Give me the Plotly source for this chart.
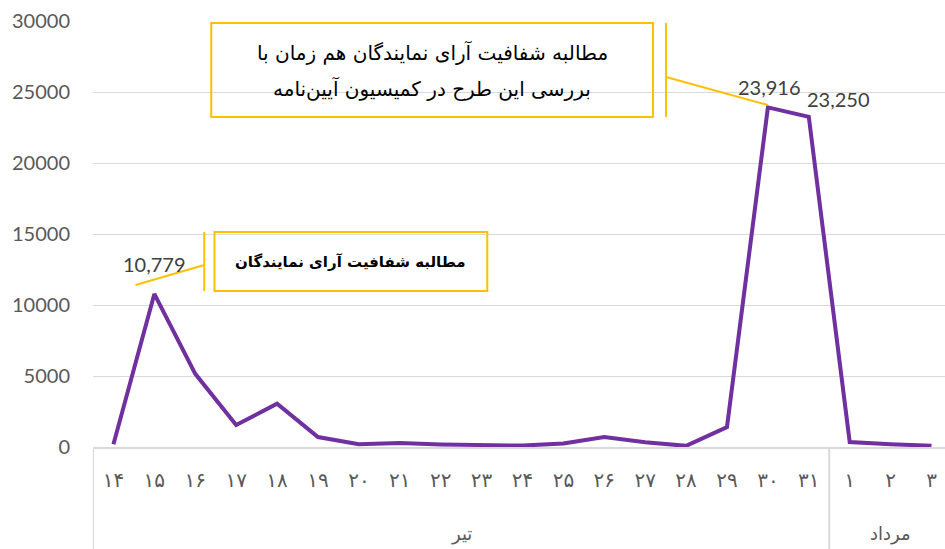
import plotly.graph_objects as go

# ---- data ----
days_tir = ['۱۴', '۱۵', '۱۶', '۱۷', '۱۸', '۱۹', '۲۰', '۲۱', '۲۲', '۲۳', '۲۴',
            '۲۵', '۲۶', '۲۷', '۲۸', '۲۹', '۳۰', '۳۱']
days_mordad = ['۱', '۲', '۳']
month_names = ['تیر', 'مرداد']
values = [200, 10779, 5150, 1550, 3050, 700, 200, 280, 180, 130, 100,
          250, 700, 330, 80, 1400, 23916, 23250, 350, 200, 80]
labelled_points = [1, 16, 17]
y_ticks = [0, 5000, 10000, 15000, 20000, 25000, 30000]
y_tick_text = ['0', '5000', '10000', '15000', '20000', '25000', '30000']
box1_text = 'مطالبه شفافیت آرای نمایندگان'
box2_lines = ['مطالبه شفافیت آرای نمایندگان هم زمان با',
              'بررسی این طرح در کمیسیون آیین‌نامه']

tick_labels = days_tir + days_mordad
xs = list(range(len(tick_labels)))

PURPLE = '#7030A0'
GOLD = '#FFC000'
GRID = '#D9D9D9'
TXT = '#595959'

fig = go.Figure()
fig.add_trace(go.Scatter(x=xs, y=values, mode='lines',
                         line=dict(color=PURPLE, width=4),
                         hoverinfo='skip', showlegend=False))

# data labels
label_shift = {1: (0, 22), 16: (2, 12), 17: (30, 10)}
for i in labelled_points:
    dx, dy = label_shift[i]
    fig.add_annotation(x=xs[i], y=values[i], text=f"{values[i]:,}",
                       showarrow=False, xshift=dx, yshift=dy + 8,
                       font=dict(family='Lato', size=20, color='#404040'))

shapes = []
# group dividers below axis
n_tir = len(days_tir)
for xd in [-0.5, n_tir - 0.5]:
    shapes.append(dict(type='line', xref='x', yref='paper', x0=xd, x1=xd,
                       y0=0, y1=-0.25, line=dict(color=GRID, width=2)))

# callout boxes
shapes.append(dict(type='rect', xref='x', yref='y', x0=2.47, x1=9.14, y0=10986, y1=15141,
                   line=dict(color=GOLD, width=2)))
shapes.append(dict(type='line', xref='x', yref='y', x0=2.22, x1=2.22, y0=10986, y1=15141,
                   line=dict(color=GOLD, width=2)))
shapes.append(dict(type='line', xref='x', yref='y', x0=2.22, x1=0.54, y0=12817, y1=11408,
                   line=dict(color=GOLD, width=2)))

shapes.append(dict(type='rect', xref='x', yref='y', x0=2.39, x1=13.19, y0=23239, y1=29859,
                   line=dict(color=GOLD, width=2)))
shapes.append(dict(type='line', xref='x', yref='y', x0=13.51, x1=13.51, y0=23239, y1=29859,
                   line=dict(color=GOLD, width=2)))
shapes.append(dict(type='line', xref='x', yref='y', x0=13.51, x1=16.0, y0=26056, y1=24085,
                   line=dict(color=GOLD, width=2)))

fig.add_annotation(x=(2.47 + 9.14) / 2, y=(10986 + 15141) / 2, xref='x', yref='y',
                   text='<b>' + box1_text + '</b>', showarrow=False,
                   font=dict(family='DejaVu Sans', size=15, color='#000000'))
box2_mid_y = (23239 + 29859) / 2
for k, line_txt in enumerate(box2_lines):
    fig.add_annotation(x=(2.39 + 13.19) / 2, y=box2_mid_y, xref='x', yref='y',
                       yshift=18 - 36 * k, text=line_txt, showarrow=False,
                       font=dict(family='DejaVu Sans', size=20, color='#000000'))

# month labels
mid_tir = (n_tir - 1) / 2
mid_mordad = n_tir + (len(days_mordad) - 1) / 2
for xm, name in zip([mid_tir, mid_mordad], month_names):
    fig.add_annotation(x=xm, y=-0.205, xref='x', yref='paper', text=name,
                       showarrow=False, yanchor='middle',
                       font=dict(family='DejaVu Sans', size=18, color=TXT))

fig.update_layout(
    width=945, height=549,
    margin=dict(l=93, r=0, t=21, b=102),
    paper_bgcolor='white', plot_bgcolor='white',
    shapes=shapes,
    xaxis=dict(range=[-0.5, 20.33], tickmode='array', tickvals=xs, ticktext=tick_labels,
               showgrid=False, zeroline=False, showline=True, linecolor=GRID, linewidth=2,
               ticks='', ticklabelstandoff=14, automargin=False,
               tickfont=dict(family='DejaVu Sans', size=20, color=TXT)),
    yaxis=dict(range=[0, 30000], tickmode='array', tickvals=y_ticks, ticktext=y_tick_text,
               showgrid=True, gridcolor=GRID,
               gridwidth=1.3, zeroline=False, showline=False, ticks='',
               ticklabelstandoff=22, automargin=False,
               tickfont=dict(family='Lato', size=20, color=TXT)),
)

fig.write_html("out.html", config={'displayModeBar': False},
               post_script="document.body.style.margin='0';document.body.style.overflow='hidden';")
